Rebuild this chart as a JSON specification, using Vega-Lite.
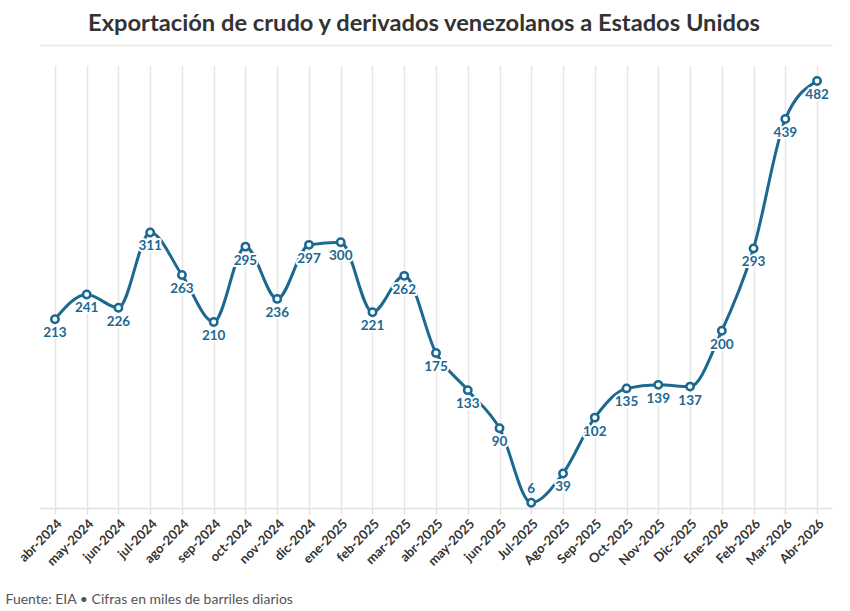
{
  "$schema": "https://vega.github.io/schema/vega-lite/v6.json",
  "width": 792,
  "height": 443,
  "autosize": "none",
  "padding": {"left": 40, "top": 65, "right": 18, "bottom": 103},
  "background": "white",
  "config": {
    "font": "Lato",
    "view": {"stroke": null}
  },
  "title": {
    "text": "Exportación de crudo y derivados venezolanos a Estados Unidos",
    "font": "Lato",
    "fontSize": 23.7,
    "fontWeight": "bold",
    "color": "#333333",
    "anchor": "middle",
    "frame": "group",
    "dx": -12,
    "offset": 9
  },
  "data": {
    "values": [
      {"mes": "abr-2024", "valor": 213},
      {"mes": "may-2024", "valor": 241},
      {"mes": "jun-2024", "valor": 226},
      {"mes": "jul-2024", "valor": 311},
      {"mes": "ago-2024", "valor": 263},
      {"mes": "sep-2024", "valor": 210},
      {"mes": "oct-2024", "valor": 295},
      {"mes": "nov-2024", "valor": 236},
      {"mes": "dic-2024", "valor": 297},
      {"mes": "ene-2025", "valor": 300},
      {"mes": "feb-2025", "valor": 221},
      {"mes": "mar-2025", "valor": 262},
      {"mes": "abr-2025", "valor": 175},
      {"mes": "may-2025", "valor": 133},
      {"mes": "jun-2025", "valor": 90},
      {"mes": "Jul-2025", "valor": 6},
      {"mes": "Ago-2025", "valor": 39},
      {"mes": "Sep-2025", "valor": 102},
      {"mes": "Oct-2025", "valor": 135},
      {"mes": "Nov-2025", "valor": 139},
      {"mes": "Dic-2025", "valor": 137},
      {"mes": "Ene-2026", "valor": 200},
      {"mes": "Feb-2026", "valor": 293},
      {"mes": "Mar-2026", "valor": 439},
      {"mes": "Abr-2026", "valor": 482}
    ]
  },
  "resolve": {"scale": {"x": "shared", "y": "shared"}, "axis": {"x": "independent"}},
  "layer": [
    {
      "mark": {"type": "line", "interpolate": "monotone", "color": "#1d6891", "strokeWidth": 3},
      "encoding": {
        "x": {
          "field": "mes",
          "type": "ordinal",
          "sort": null,
          "scale": {"type": "point", "padding": 0.47},
          "axis": {
            "title": "Fuente: EIA • Cifras en miles de barriles diarios",
            "titleFont": "Lato",
            "titleFontSize": 14,
            "titleFontWeight": "normal",
            "titleColor": "#555555",
            "titleAnchor": "start",
            "titleAlign": "left",
            "titleBaseline": "alphabetic",
            "titleX": -35,
            "titleY": 95,
            "labelAngle": -45,
            "labelFont": "Lato",
            "labelFontSize": 13,
            "labelFontWeight": "bold",
            "labelColor": "#333333",
            "labelPadding": 3,
            "grid": true,
            "gridColor": "#e6e6e6",
            "gridWidth": 1.5,
            "tickColor": "#e0e0e0",
            "tickWidth": 1.5,
            "tickSize": 6,
            "domainColor": "#e0e0e0",
            "domainWidth": 1.5
          }
        },
        "y": {
          "field": "valor",
          "type": "quantitative",
          "scale": {"domain": [0, 500], "nice": false},
          "axis": null
        }
      }
    },
    {
      "mark": {"type": "point", "filled": true, "fill": "white", "stroke": "#1d6891", "strokeWidth": 2.5, "size": 55, "opacity": 1},
      "encoding": {
        "x": {
          "field": "mes",
          "type": "ordinal",
          "sort": null,
          "axis": {
            "orient": "top",
            "labels": false,
            "ticks": false,
            "grid": false,
            "title": null,
            "domainColor": "#e6e6e6",
            "domainWidth": 1.5,
            "offset": 20
          }
        },
        "y": {"field": "valor", "type": "quantitative"}
      }
    },
    {
      "transform": [{"filter": "datum.valor >= 20"}],
      "mark": {"type": "text", "dy": 14, "fontSize": 13.5, "fontWeight": "bold", "font": "Lato", "fill": "white", "stroke": "white", "strokeWidth": 4, "strokeJoin": "round"},
      "encoding": {
        "x": {"field": "mes", "type": "ordinal", "sort": null, "axis": null},
        "y": {"field": "valor", "type": "quantitative"},
        "text": {"field": "valor", "type": "quantitative"}
      }
    },
    {
      "transform": [{"filter": "datum.valor >= 20"}],
      "mark": {"type": "text", "dy": 14, "fontSize": 13.5, "fontWeight": "bold", "font": "Lato", "color": "#1d6891"},
      "encoding": {
        "x": {"field": "mes", "type": "ordinal", "sort": null, "axis": null},
        "y": {"field": "valor", "type": "quantitative"},
        "text": {"field": "valor", "type": "quantitative"}
      }
    },
    {
      "transform": [{"filter": "datum.valor < 20"}],
      "mark": {"type": "text", "dy": -14, "fontSize": 13.5, "fontWeight": "bold", "font": "Lato", "color": "#1d6891"},
      "encoding": {
        "x": {"field": "mes", "type": "ordinal", "sort": null, "axis": null},
        "y": {"field": "valor", "type": "quantitative"},
        "text": {"field": "valor", "type": "quantitative"}
      }
    }
  ]
}
